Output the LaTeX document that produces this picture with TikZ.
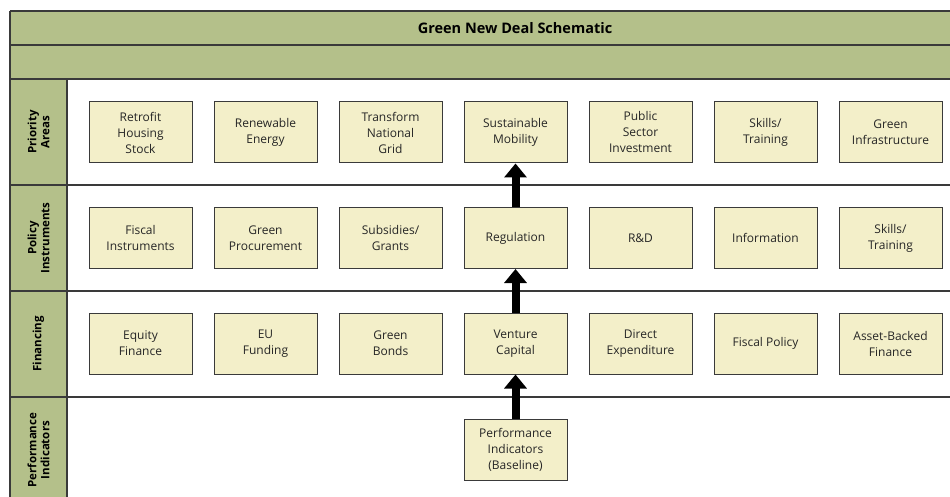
\documentclass[tikz,border=0pt]{standalone}
\usepackage{fontspec}
\setmainfont{Open Sans}
\usepackage{xcolor}
\usepackage{tikz}
\usetikzlibrary{positioning,arrows.meta}
\definecolor{bandgreen}{RGB}{180,192,138}
\definecolor{boxfill}{RGB}{243,239,201}
\definecolor{rulegray}{RGB}{58,58,58}

\begin{document}
\begin{tikzpicture}[x=1pt,y=-1pt,
        item/.style={draw=rulegray,fill=boxfill,line width=1pt,minimum width=103pt,minimum height=61pt,
            inner sep=1pt,align=center,text=black!85,font=\fontsize{12}{16}\selectfont},
        rowlabel/.style={rotate=90,align=center,font=\bfseries\fontsize{11.5}{13}\selectfont},
        rule/.style={draw=rulegray,line width=1.2pt},
        uparrow/.style={line width=8pt,-{Triangle[width=22pt,length=14pt]}}]
    \useasboundingbox (0,0) rectangle (950,497);
    \clip (0,0) rectangle (950,497);
    % green bands and label column
    \fill[bandgreen] (10,11) rectangle (960,79);
    \fill[bandgreen] (10,79) rectangle (67,510);
    \foreach \y in {11,45,79,185,291,397}
        \draw[rule] (10,\y) -- (960,\y);
    \draw[rule] (10,11) -- (10,510);
    \draw[rule] (67,79) -- (67,510);
    \node (title) [font=\bfseries\fontsize{14.5}{16}\selectfont] at (515,28) {Green New Deal Schematic};
    % row labels
    \node (lbl-pa) [rowlabel] at (38.5,132) {Priority\\Areas};
    \node (lbl-pi) [rowlabel] at (38.5,238) {Policy\\Instruments};
    \node (lbl-fi) [rowlabel] at (38.5,344) {Financing};
    \node (lbl-pe) [rowlabel] at (38.5,450) {Performance\\Indicators};
    % boxes
    \foreach \i/\txt in {1/{Retrofit\\Housing\\Stock},2/{Renewable\\Energy},3/{Transform\\National\\Grid},
            4/{Sustainable\\Mobility},5/{Public\\Sector\\Investment},6/{Skills/\\Training},7/{Green\\Infrastructure}}
        \node (pa-\i) [item] at ({140.5+125*(\i-1)},132.5) {\txt};
    \foreach \i/\txt in {1/{Fiscal\\Instruments},2/{Green\\Procurement},3/{Subsidies/\\Grants},
            4/{Regulation},5/{R\&D},6/{Information},7/{Skills/\\Training}}
        \node (pi-\i) [item] at ({140.5+125*(\i-1)},238) {\txt};
    \foreach \i/\txt in {1/{Equity\\Finance},2/{EU\\Funding},3/{Green\\Bonds},
            4/{Venture\\Capital},5/{Direct\\Expenditure},6/{Fiscal Policy},7/{Asset-Backed\\Finance}}
        \node (fi-\i) [item] at ({140.5+125*(\i-1)},343.5) {\txt};
    \node (perf) [item] at (515.5,449.5) {Performance\\Indicators\\(Baseline)};
    % arrows
    \draw[uparrow] (perf.north) -- (fi-4.south);
    \draw[uparrow] (fi-4.north) -- (pi-4.south);
    \draw[uparrow] (pi-4.north) -- (pa-4.south);
\end{tikzpicture}
\end{document}
